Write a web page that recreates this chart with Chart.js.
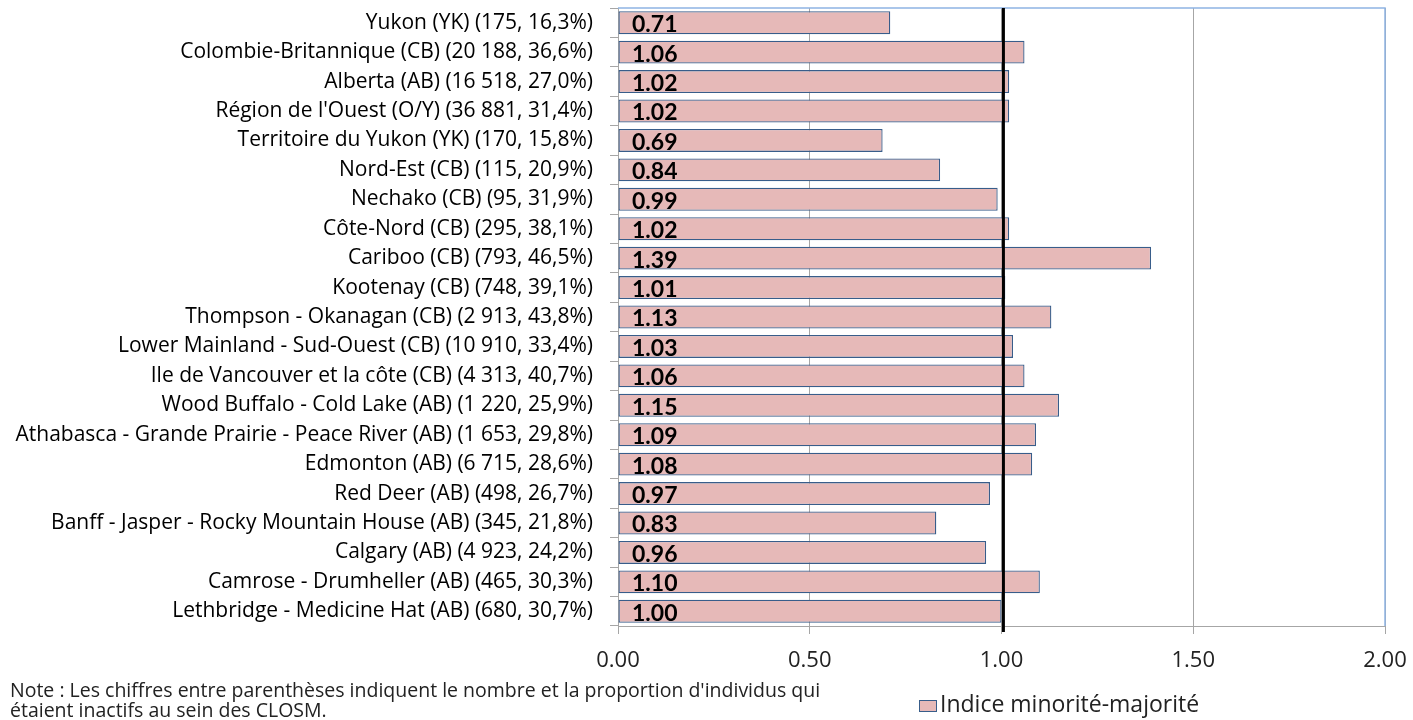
<!DOCTYPE html>
<html>
<head>
<meta charset="utf-8">
<script src="https://cdn.jsdelivr.net/npm/chart.js@4/dist/chart.umd.min.js"></script>
<style>
  html, body { margin: 0; padding: 0; background: #ffffff; }
  #wrap { position: relative; width: 1413px; height: 720px; }
</style>
</head>
<body>
<div id="wrap"><canvas id="c" width="1413" height="720"></canvas></div>
<script>
const categories = [
  "Yukon (YK) (175, 16,3%)",
  "Colombie-Britannique (CB) (20 188, 36,6%)",
  "Alberta (AB) (16 518, 27,0%)",
  "Région de l'Ouest (O/Y) (36 881, 31,4%)",
  "Territoire du Yukon (YK) (170, 15,8%)",
  "Nord-Est (CB) (115, 20,9%)",
  "Nechako (CB) (95, 31,9%)",
  "Côte-Nord (CB) (295, 38,1%)",
  "Cariboo (CB) (793, 46,5%)",
  "Kootenay (CB) (748, 39,1%)",
  "Thompson - Okanagan (CB) (2 913, 43,8%)",
  "Lower Mainland - Sud-Ouest (CB) (10 910, 33,4%)",
  "Ile de Vancouver et la côte (CB) (4 313, 40,7%)",
  "Wood Buffalo - Cold Lake (AB) (1 220, 25,9%)",
  "Athabasca - Grande Prairie - Peace River (AB) (1 653, 29,8%)",
  "Edmonton (AB) (6 715, 28,6%)",
  "Red Deer (AB) (498, 26,7%)",
  "Banff - Jasper - Rocky Mountain House (AB) (345, 21,8%)",
  "Calgary (AB) (4 923, 24,2%)",
  "Camrose - Drumheller (AB) (465, 30,3%)",
  "Lethbridge - Medicine Hat (AB) (680, 30,7%)"
];
const values = [0.71, 1.06, 1.02, 1.02, 0.69, 0.84, 0.99, 1.02, 1.39, 1.01, 1.13, 1.03, 1.06, 1.15, 1.09, 1.08, 0.97, 0.83, 0.96, 1.10, 1.00];
const seriesName = "Indice minorité-majorité";
const referenceLine = [1.005];
const xMin = 0, xMax = 2, xStep = 0.5;
const noteLines = [
  "Note : Les chiffres entre parenthèses indiquent le nombre et la proportion d'individus qui",
  "étaient inactifs au sein des CLOSM."
];

const SANS = "'Open Sans', sans-serif";
const CAL = "Lato, sans-serif";

const extrasPlugin = {
  id: 'extras',
  beforeDatasetsDraw(chart) {
    const { ctx, chartArea: a } = chart;
    ctx.save();
    ctx.strokeStyle = '#8EB4E3';
    ctx.lineWidth = 1.5;
    ctx.beginPath();
    ctx.moveTo(a.left, a.top);
    ctx.lineTo(a.right, a.top);
    ctx.lineTo(a.right, a.bottom);
    ctx.stroke();
    ctx.restore();
  },
  afterDatasetsDraw(chart) {
    const { ctx, chartArea: a, scales } = chart;
    const meta = chart.getDatasetMeta(0);
    ctx.save();
    ctx.fillStyle = '#000';
    ctx.font = "bold 23px " + CAL;
    ctx.textAlign = 'left';
    ctx.textBaseline = 'middle';
    meta.data.forEach((bar, i) => {
      ctx.fillText(values[i].toFixed(2), a.left + 14, bar.y + 2);
    });
    referenceLine.forEach(v => {
      const x = scales.x.getPixelForValue(v);
      ctx.strokeStyle = '#000';
      ctx.lineWidth = 3;
      ctx.beginPath();
      ctx.moveTo(x, a.top);
      ctx.lineTo(x, a.bottom + 6);
      ctx.stroke();
    });
    ctx.restore();
  },
  afterDraw(chart) {
    const { ctx } = chart;
    ctx.save();
    ctx.fillStyle = '#222';
    ctx.font = "19.5px " + SANS;
    ctx.textAlign = 'left';
    ctx.textBaseline = 'alphabetic';
    ctx.fillText(noteLines[0], 10, 697);
    ctx.fillText(noteLines[1], 10, 717);
    // legend
    ctx.fillStyle = '#E6B9B8';
    ctx.strokeStyle = '#385D8A';
    ctx.lineWidth = 1;
    ctx.fillRect(919.5, 700.5, 17, 11);
    ctx.strokeRect(919.5, 700.5, 17, 11);
    ctx.fillStyle = '#222';
    ctx.font = "23px " + SANS;
    ctx.textBaseline = 'middle';
    ctx.fillText(seriesName, 940, 705);
    ctx.restore();
  }
};

function zeroPad(s) { s.paddingTop = 0; s.paddingBottom = 0; s.paddingLeft = 0; s.paddingRight = 0; }

new Chart(document.getElementById('c'), {
  type: 'bar',
  data: {
    labels: categories,
    datasets: [{
      label: seriesName,
      data: values,
      backgroundColor: '#E6B9B8',
      borderColor: '#385D8A',
      borderWidth: 1.3,
      borderSkipped: false,
      barPercentage: 0.78,
      categoryPercentage: 1
    }]
  },
  options: {
    indexAxis: 'y',
    responsive: false,
    animation: false,
    devicePixelRatio: 1,
    layout: { padding: { top: 8, right: 28, bottom: 44, left: 0 } },
    plugins: { legend: { display: false }, tooltip: { enabled: false } },
    scales: {
      x: {
        min: xMin, max: xMax,
        afterFit(s) { s.height = 50; zeroPad(s); },
        ticks: {
          stepSize: xStep,
          callback: v => Number(v).toFixed(2),
          color: '#222',
          font: { family: SANS, size: 22 },
          padding: 14,
          maxRotation: 0
        },
        grid: { color: '#A6A6A6', lineWidth: 1, tickLength: 8, drawTicks: true },
        border: { color: '#A6A6A6', width: 1 }
      },
      y: {
        afterFit(s) { s.width = 618; zeroPad(s); },
        ticks: {
          color: '#000',
          font: { family: SANS, size: 21 },
          padding: 17,
          autoSkip: false
        },
        grid: { drawOnChartArea: false, tickLength: 8, color: '#A6A6A6', offset: true },
        border: { color: '#A6A6A6', width: 1 }
      }
    }
  },
  plugins: [extrasPlugin]
});
</script>
</body>
</html>
